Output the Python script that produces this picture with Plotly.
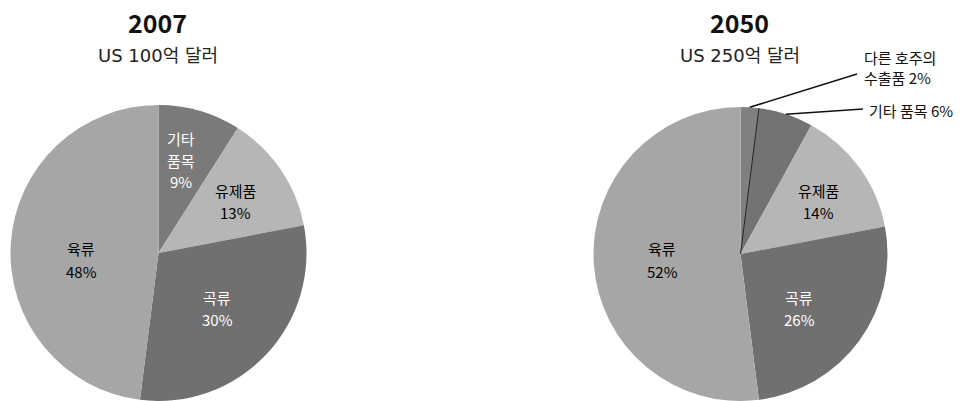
import math
import plotly.graph_objects as go

# ---- data ----
years = ["2007", "2050"]
totals = ["US 100억 달러", "US 250억 달러"]

cats_2007 = ["기타 품목", "유제품", "곡류", "육류"]
vals_2007 = [9, 13, 30, 48]

cats_2050 = ["다른 호주의 수출품", "기타 품목", "유제품", "곡류", "육류"]
vals_2050 = [2, 6, 14, 26, 52]

# ---- styling / layout ----
W, H = 974, 401
FONT = "Noto Sans CJK KR"
WIDE_FONT = "DejaVu Sans, Noto Sans CJK KR"

colors_2007 = ["#7a7a7a", "#b6b6b6", "#707070", "#a6a6a6"]
colors_2050 = ["#808080", "#737373", "#b6b6b6", "#707070", "#a6a6a6"]

# pie centres and radius in pixels
PIES = [
    {"cx": 158.5, "cy": 253.0, "r": 148.0},
    {"cx": 740.5, "cy": 254.0, "r": 147.0},
]
LINE_GAP = 22  # vertical distance between lines of a slice label


def px_x(x):
    return x / W


def px_y(y):
    return 1 - y / H


def domain(p):
    return dict(
        x=[px_x(p["cx"] - p["r"]), px_x(p["cx"] + p["r"])],
        y=[max(0.0, px_y(p["cy"] + p["r"])), px_y(p["cy"] - p["r"])],
    )


def edge_point(p, frac_of_circle, scale=1.0):
    """Point on a pie at a cumulative share (0..1, clockwise from 12 o'clock)."""
    a = 2 * math.pi * frac_of_circle
    return (p["cx"] + scale * p["r"] * math.sin(a),
            p["cy"] - scale * p["r"] * math.cos(a))


fig = go.Figure()
fig.add_trace(go.Pie(
    labels=cats_2007, values=vals_2007, sort=False, direction="clockwise",
    rotation=0, textinfo="none", hoverinfo="label+percent",
    marker=dict(colors=colors_2007, line=dict(width=0)),
    domain=domain(PIES[0]), showlegend=False,
))
fig.add_trace(go.Pie(
    labels=cats_2050, values=vals_2050, sort=False, direction="clockwise",
    rotation=0, textinfo="none", hoverinfo="label+percent",
    marker=dict(colors=colors_2050, line=dict(width=0)),
    domain=domain(PIES[1]), showlegend=False,
))

annotations = []
shapes = []


def add_text(text, x, y, size, color, family=FONT, xanchor="center"):
    annotations.append(dict(
        x=px_x(x), y=px_y(y), xref="paper", yref="paper",
        text=text, showarrow=False, xanchor=xanchor, yanchor="middle",
        font=dict(family=family, size=size, color=color),
    ))


# titles
for yr, tot, tx in zip(years, totals, [157, 739]):
    add_text(f"<b>{yr}</b>", tx, 22, 25, "#111111")
    add_text(tot, tx + 1, 56, 18, "#222222", family=WIDE_FONT)

# inside labels: (text lines, value, centre x px, centre y px, colour)
inside_2007 = [
    (["기타", "품목"], vals_2007[0], 181, 160, "white"),
    (["유제품"], vals_2007[1], 235.5, 201, "black"),
    (["곡류"], vals_2007[2], 217, 308, "white"),
    (["육류"], vals_2007[3], 81, 260, "black"),
]
inside_2050 = [
    (["유제품"], vals_2050[2], 818, 201, "black"),
    (["곡류"], vals_2050[3], 799, 308, "white"),
    (["육류"], vals_2050[4], 662, 260, "black"),
]
for lines, v, x, y, c in inside_2007 + inside_2050:
    rows = lines + [f"{v}%"]
    top = y - LINE_GAP * (len(rows) - 1) / 2
    for i, row in enumerate(rows):
        add_text(row, x, top + i * LINE_GAP, 15, c)

# outside labels for the small 2050 slices, with leader lines
p2 = PIES[1]
cum = [sum(vals_2050[:i]) / sum(vals_2050) for i in range(len(vals_2050) + 1)]
outside = [
    (["다른 호주의", f"수출품 {vals_2050[0]}%"], 0, (862, 57), (857, 74)),
    ([f"기타 품목 {vals_2050[1]}%"], 1, (867, 111), (863, 109)),
]
for rows, idx, (lx, ly), (ex, ey) in outside:
    for i, row in enumerate(rows):
        add_text(row, lx, ly + i * 20, 15, "#111111", xanchor="left")
    mx, my = edge_point(p2, (cum[idx] + cum[idx + 1]) / 2, 1.0)
    shapes.append(dict(
        type="line", xref="paper", yref="paper",
        x0=px_x(mx), y0=px_y(my), x1=px_x(ex), y1=px_y(ey),
        line=dict(color="#111111", width=1.5),
    ))

# thin dark border between the two smallest 2050 slices
bx, by = edge_point(p2, cum[1], 1.0)
shapes.append(dict(
    type="line", xref="paper", yref="paper",
    x0=px_x(p2["cx"]), y0=px_y(p2["cy"]), x1=px_x(bx), y1=px_y(by),
    line=dict(color="#222222", width=1),
))

fig.update_layout(
    width=W, height=H, autosize=False,
    margin=dict(l=0, r=0, t=0, b=0),
    paper_bgcolor="white", plot_bgcolor="white",
    annotations=annotations, shapes=shapes,
)

fig.write_html("out.html")
